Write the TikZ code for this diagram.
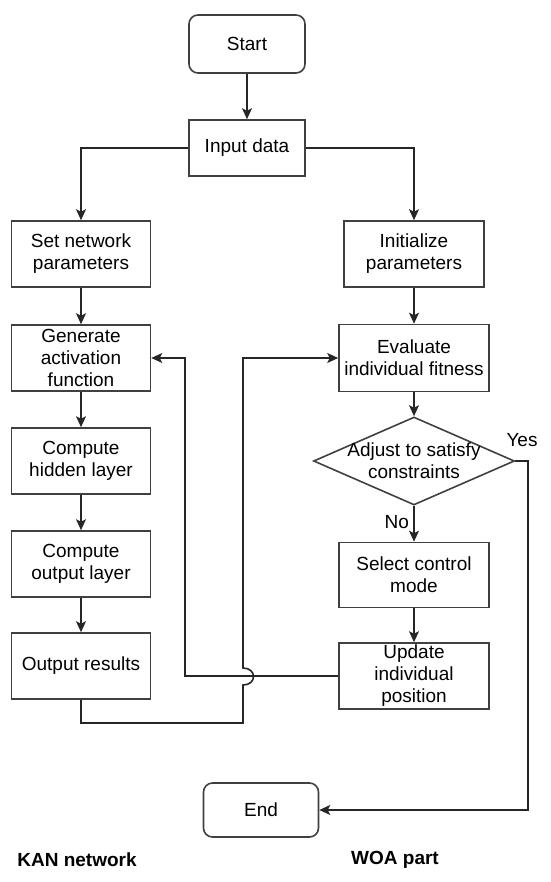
\documentclass[tikz,border=0pt]{standalone}
\usepackage{fontspec}
\setmainfont{Liberation Sans}
\usetikzlibrary{arrows.meta,shapes.geometric}

\begin{document}
\begin{tikzpicture}[
  x=1pt, y=-1pt,
  font=\fontsize{19}{22}\selectfont,
  box/.style={rectangle, draw=black!75, line width=1.6pt, align=center, inner xsep=2pt, inner ysep=0pt, minimum height=66pt},
  term/.style={box, rounded corners=9pt},
  decision/.style={diamond, draw=black!75, line width=1.6pt, inner sep=0pt, minimum width=201pt, minimum height=88pt},
  flow/.style={line width=1.6pt, draw=black!85},
  arr/.style={flow, -{Stealth[length=11pt,width=10pt,inset=2.5pt]}},
  tag/.style={font=\fontsize{19}{22}\selectfont\bfseries}
]
  \useasboundingbox (0,0) rectangle (550,882);

  % Inicio y datos de entrada
  \node[term, minimum width=116pt, minimum height=58pt] (start) at (247,44) {Start};
  \node[box, minimum width=116pt, minimum height=56pt] (input) at (247,148) {Input data};

  % Columna KAN
  \foreach \name/\y/\txt in {setp/254/{Set network\\parameters}, gen/358/{Generate\\activation\\function},
      hid/461/{Compute\\hidden layer}, outl/564/{Compute\\output layer}, outres/666/{Output results}} {
    \node[box, minimum width=139pt] (\name) at (81,\y) {\txt};
  }

  % Columna WOA
  \node[box, minimum width=140pt] (init) at (414,254) {Initialize\\parameters};
  \node[box, minimum width=150pt, minimum height=67pt] (eval) at (414,358) {Evaluate\\individual fitness};
  \node[decision] (adj) at (414,461) {};
  \node[align=center] (adjtxt) at (adj) {Adjust to satisfy\\constraints};
  \node[box, minimum width=150pt, minimum height=65pt] (sel) at (414,575) {Select control\\mode};
  \node[box, minimum width=150pt] (upd) at (414,676) {Update\\individual\\position};
  \node[term, minimum width=115pt, minimum height=54pt] (end) at (261,810) {End};

  % Flechas principales
  \draw[arr] (start) -- (input);
  \draw[arr] (input) -| (setp);
  \draw[arr] (input) -| (init);
  \draw[arr] (setp) -- (gen);
  \draw[arr] (gen) -- (hid);
  \draw[arr] (hid) -- (outl);
  \draw[arr] (outl) -- (outres);
  \draw[arr] (init) -- (eval);
  \draw[arr] (eval) -- (adj);
  \draw[arr] (adj) -- node[left, pos=0.45, xshift=-1pt] (nolab) {No} (sel);
  \draw[arr] (sel) -- (upd);

  % Rama Yes hacia el final
  \coordinate (yes) at (528,461);
  \draw[arr] (adj.east) -- (yes) |- (end);
  \node (yeslab) at (522,440) {Yes};

  % Retroalimentación entre las dos partes
  \coordinate (fb) at (185,676);
  \draw[arr] (upd.west) -- (fb) |- (gen.east);
  \coordinate (lo) at (243,723);
  \coordinate (hopb) at (243,685);
  \coordinate (hopt) at (243,668);
  \draw[arr] (outres.south) |- (lo) -- (hopb) .. controls +(14,0) and +(14,0) .. (hopt) |- (eval.west);

  % Etiquetas inferiores
  \node[tag] (kan) at (77,860) {KAN network};
  \node[tag] (woa) at (395,860) {WOA part};
\end{tikzpicture}
\end{document}
